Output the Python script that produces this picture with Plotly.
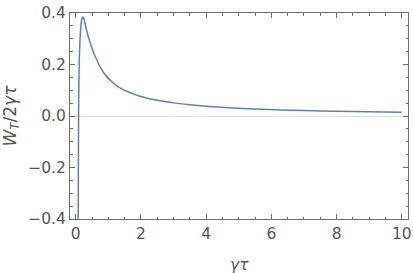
import plotly.graph_objects as go

# values
x_vals = [0.075, 0.082, 0.088, 0.095, 0.11, 0.126, 0.14, 0.156, 0.178, 0.20, 0.217,
          0.24, 0.26, 0.28, 0.30, 0.33, 0.36, 0.40, 0.45, 0.50, 0.56, 0.62, 0.70, 0.78,
          0.87, 0.98, 1.10, 1.25, 1.40, 1.60, 1.80, 2.00, 2.30, 2.60, 3.00, 3.50, 4.00,
          4.70, 5.50, 6.30, 7.00, 8.00, 9.00, 10.0]
y_vals = [-0.45, -0.2, 0.0, 0.11, 0.22, 0.28, 0.315, 0.344, 0.370, 0.381, 0.384,
          0.381, 0.374, 0.363, 0.351, 0.335, 0.320, 0.302, 0.282, 0.263, 0.243, 0.225, 0.203, 0.184,
          0.166, 0.149, 0.134, 0.118, 0.106, 0.094, 0.084, 0.076, 0.066, 0.059, 0.051, 0.044, 0.038,
          0.032, 0.027, 0.0235, 0.021, 0.0183, 0.0162, 0.0145]

x_ticks = [0, 2, 4, 6, 8, 10]
y_ticks = [-0.4, -0.2, 0.0, 0.2, 0.4]
y_tick_text = ["\u22120.4", "\u22120.2", "0.0", "0.2", "0.4"]

FONT = "DejaVu Sans"
TICKCOL = "#555555"
FRAME = "#6e6e6e"

fig = go.Figure()
fig.add_trace(go.Scatter(x=x_vals, y=y_vals, mode="lines",
                         line=dict(color="#5E81B5", width=1.5, shape="spline", smoothing=0.5),
                         hoverinfo="skip", showlegend=False))

fig.update_layout(
    width=413, height=273,
    margin=dict(l=69.5, r=5, t=12.5, b=53.5),
    paper_bgcolor="white", plot_bgcolor="white",
    font=dict(family=FONT, size=15.5, color=TICKCOL),
    showlegend=False,
)
fig.update_xaxes(
    range=[-0.175, 10.19], tickvals=x_ticks, ticktext=[str(v) for v in x_ticks],
    automargin=False,
    showgrid=False, zeroline=False,
    showline=True, linecolor=FRAME, linewidth=1, mirror="ticks",
    ticks="inside", ticklen=5, tickwidth=1, tickcolor=FRAME,
    minor=dict(dtick=0.5, tick0=0, ticks="inside", ticklen=2.5, tickcolor=FRAME, showgrid=False),
    tickfont=dict(family=FONT, size=15.5, color=TICKCOL),
)
fig.update_yaxes(
    range=[-0.4, 0.4], tickvals=y_ticks, ticktext=y_tick_text,
    automargin=False,
    showgrid=False, zeroline=True, zerolinecolor="#dddddd", zerolinewidth=1,
    showline=True, linecolor=FRAME, linewidth=1, mirror="ticks",
    ticks="inside", ticklen=5, tickwidth=1, tickcolor=FRAME,
    minor=dict(dtick=0.05, tick0=0, ticks="inside", ticklen=2.5, tickcolor=FRAME, showgrid=False),
    tickfont=dict(family=FONT, size=15.5, color=TICKCOL),
)
fig.add_annotation(text="<i>γτ</i>", xref="paper", yref="paper", x=0.5, y=-0.225,
                   xanchor="center", yanchor="middle", showarrow=False,
                   font=dict(family=FONT, size=15.5, color=TICKCOL))
fig.add_annotation(text="<i>W</i><sub><i>T</i></sub>/2<i>γτ</i>", xref="paper", yref="paper",
                   x=-0.176, y=0.5, xanchor="center", yanchor="middle", textangle=-90,
                   showarrow=False, font=dict(family=FONT, size=17, color=TICKCOL))

fig.write_html("out.html", config={"displayModeBar": False},
               post_script="document.body.style.margin='0';")
